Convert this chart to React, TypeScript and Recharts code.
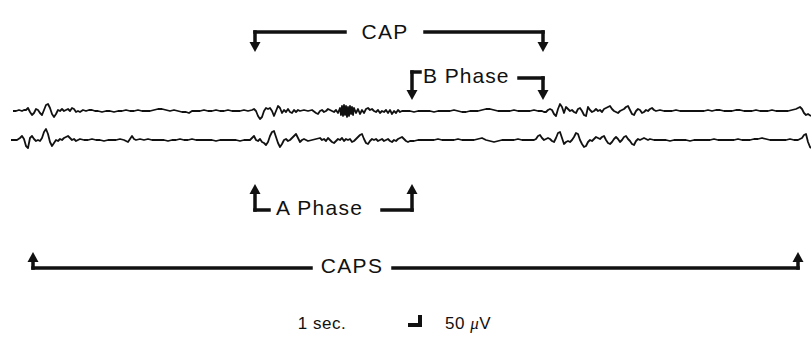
import React from 'react';
import { LineChart, Line, XAxis, YAxis, ReferenceLine, ReferenceDot } from 'recharts';

// EEG traces: [time, deflection] (deflection positive = up)
const topTrace: [number, number][] = [
  [13, 0], [16, 0], [19, 1], [22, 0], [24, 1], [26, 1], [28, 3], [30, -1], [32, -4],
  [34, -2], [36, 2], [38, 1], [40, -2], [42, -4], [44, 1], [46, 6], [48, 7], [50, 3], [52, -3], [54, -6], [56, -3],
  [58, 1], [60, 0], [62, 2], [64, 0], [66, 1], [68, 2], [70, 0], [72, 3], [74, 2], [76, -1], [78, 0], [80, -1],
  [83, 1], [86, 0], [89, 1], [92, 1], [95, 0], [98, 0], [102, -1], [106, 0], [110, 0],
  [114, -1], [118, 0], [122, 0], [126, 1], [130, 0], [134, 0], [138, 1], [142, 0], [146, 0], [150, 0],
  [154, 1], [158, 2], [162, 2], [166, 1], [170, 0], [174, 1], [178, 0], [182, -1], [186, -1], [189, -2], [192, 0],
  [196, 0], [200, 0], [204, 1], [208, 0], [212, 0], [216, 1], [220, 0], [224, 0], [228, 1], [232, 0], [236, 0],
  [240, 0], [244, 1], [248, 0], [252, 1], [254, 2], [256, 0], [258, -5], [260, -8], [262, -6], [264, 0], [266, 3],
  [268, 2], [270, 3], [272, 0], [274, -5], [276, 0], [278, 5], [280, 3], [282, -2], [284, 1], [286, -1], [288, 2],
  [290, -1], [292, -2], [294, 1], [296, -1], [298, 1], [300, 0], [304, 1], [308, 0], [312, 1], [316, -2], [318, -3],
  [320, 0], [322, 1], [324, -1], [326, 0], [328, 2], [330, 1], [332, 0], [334, -1], [336, 1], [338, -2], [340, 3],
  [341, -4], [342, 5], [343, -5], [344, 6], [345, -4], [346, 5], [347, -6], [348, 4], [349, -5], [350, 5], [351, -3],
  [352, 4], [353, -4], [354, 3], [356, -2], [358, 2], [360, -3], [362, 1], [364, -2], [366, 2], [368, 3], [370, 1],
  [372, 2], [374, 0], [376, -1], [378, 1], [380, -2], [382, 0], [384, -1], [386, 1], [388, -2], [390, 1], [392, -3],
  [394, 0], [396, -2], [398, 1], [400, -1], [402, 0], [406, 0], [410, 0], [414, -1], [418, 0], [422, 0], [426, 0],
  [430, 0], [434, -1], [438, 0], [442, 0], [446, 0], [450, 0], [454, 1], [458, 0], [462, -1], [466, -1], [470, 0],
  [474, 0], [478, 0], [482, 1], [486, 2], [490, 2], [494, 1], [498, 0], [502, 0], [506, 0], [510, 0], [514, 1],
  [518, 0], [522, 0], [526, 0], [530, 0], [534, 1], [538, 0], [542, 0], [544, -1], [546, -1], [548, 1], [550, 2],
  [552, 1], [554, -3], [556, -5], [558, 2], [560, 7], [562, 4], [564, -2], [566, 4], [568, 2], [570, 0], [572, 1],
  [574, -1], [576, -2], [578, 2], [580, 3], [582, 0], [584, -4], [586, -5], [588, 4], [590, 1], [592, -1], [594, 0],
  [596, 2], [598, 0], [600, 1], [602, -1], [604, 2], [606, 3], [608, 4], [610, 5], [612, 2], [614, 0], [616, -1],
  [618, -2], [620, 0], [622, 1], [624, 2], [626, 4], [628, 5], [630, 1], [632, -3], [634, -4], [636, 0], [638, 2],
  [640, 1], [642, -2], [644, -1], [646, 1], [648, 0], [650, 2], [652, 3], [654, 1], [656, 0], [660, 1], [664, 0],
  [668, 0], [672, 0], [676, 1], [680, 0], [684, 0], [688, 0], [692, 0], [696, 0], [700, 0], [704, 0], [708, 1],
  [712, 0], [716, 1], [720, 1], [724, 0], [728, 0], [732, 0], [736, 1], [740, 1], [744, 0], [748, 0], [752, 0],
  [756, 1], [760, 0], [764, 0], [768, 0], [772, 1], [776, 0], [780, 0], [784, 0], [788, 0], [792, 1], [796, 2],
  [798, 3], [800, 4], [802, 2], [804, -2], [806, -4], [808, -3], [811, -5],
];

const bottomTrace: [number, number][] = [
  [11, 0], [14, 0], [17, 0], [20, 2], [22, 4], [24, 1], [26, -6], [28, -8], [30, 2], [32, 4],
  [34, 1], [36, -1], [38, 0], [40, -1], [42, 2], [44, 8], [46, 11], [48, 6], [50, -2], [52, -6], [54, -3], [56, 0],
  [58, -1], [60, 1], [62, 0], [64, 2], [66, 3], [68, 4], [70, 2], [72, 0], [74, 1], [76, -1], [78, 0], [80, 1],
  [84, 0], [88, 0], [92, 1], [96, 0], [100, 0], [104, -1], [108, 0], [112, 0], [116, 0], [120, 1], [124, 0],
  [128, -2], [130, 1], [132, 4], [134, 1], [136, 0], [140, 1], [144, 0], [148, 1], [152, 0], [156, 0], [160, 0],
  [164, 0], [168, -1], [172, 0], [176, 0], [180, 1], [184, 0], [188, 0], [192, 1], [196, 0], [200, 0], [204, 0],
  [208, 0], [212, 0], [216, -1], [220, 0], [224, 0], [228, 0], [232, 0], [236, 0], [240, -1], [244, 0], [248, 0],
  [250, 0], [252, 2], [254, 4], [256, 0], [258, -1], [260, 1], [262, -2], [264, -3], [266, -5], [268, -2], [270, 4],
  [272, 8], [274, 9], [276, 3], [278, -3], [280, -7], [282, -4], [284, 0], [286, 1], [288, -1], [290, 0], [292, 2],
  [294, 4], [296, 6], [298, 2], [300, -2], [302, 0], [304, 1], [308, -1], [312, 0], [316, 1], [320, 2], [322, 0],
  [324, 1], [326, -1], [328, 2], [330, 0], [332, -2], [334, -3], [336, -1], [338, 1], [340, 0], [342, 2], [344, -1],
  [346, 1], [348, 0], [350, 1], [352, -2], [354, -1], [356, 1], [358, 3], [360, 5], [362, 6], [364, 1], [366, -3],
  [368, -4], [370, -1], [372, 1], [374, 0], [376, 1], [378, -1], [380, 0], [382, 1], [384, -1], [386, 0], [388, 1],
  [390, -1], [392, -2], [394, 0], [396, -1], [398, 1], [400, 2], [402, 3], [404, 1], [406, -1], [408, -2], [410, -1],
  [414, -1], [418, 0], [422, 0], [426, 0], [430, 0], [434, 0], [438, 1], [442, 0], [446, 0], [450, 0], [454, 0],
  [458, 1], [462, 0], [466, 0], [470, 0], [474, 0], [478, 1], [482, 2], [486, 0], [490, -1], [494, -2], [498, -1],
  [502, 0], [506, 0], [510, 0], [514, 0], [518, 1], [522, 0], [526, 0], [530, 0], [534, 0], [536, 1], [538, 4],
  [540, 5], [542, 2], [544, 0], [546, 1], [548, 2], [550, 1], [552, -1], [554, -2], [556, 2], [558, 7], [560, 8],
  [562, 2], [564, -4], [566, -2], [568, -1], [570, -2], [572, 0], [574, 3], [576, 7], [578, 6], [580, 0], [582, -4],
  [584, -7], [586, -6], [588, -2], [590, 0], [592, -1], [594, 1], [596, 3], [598, 2], [600, 1], [602, 3], [604, 4],
  [606, 0], [608, -3], [610, -4], [612, -2], [614, 1], [616, 3], [618, 1], [620, -2], [622, 0], [624, 3], [626, 4],
  [628, 1], [630, -1], [632, -4], [634, -5], [636, -1], [638, 1], [640, 0], [642, 1], [644, 2], [646, 1], [648, 0],
  [650, 1], [654, 0], [658, 0], [662, 0], [666, 0], [670, -1], [674, 0], [678, 0], [682, 0], [686, 0], [690, -1],
  [694, 0], [698, 0], [702, 0], [706, 0], [710, 0], [714, 1], [718, 0], [722, 0], [726, 0], [730, 0], [734, 0],
  [738, 1], [742, 0], [746, 0], [750, 0], [754, 1], [758, 1], [762, 2], [766, 1], [770, 0], [774, 0], [778, 0],
  [782, 0], [786, 0], [790, 1], [794, 0], [798, 0], [800, 1], [802, 2], [804, 5], [806, 6], [808, -2], [810, -7],
  [811, -8],
];

// phase boundaries (same time units as traces)
const capRange = [255, 543];
const bPhaseRange = [412, 543];
const aPhaseRange = [255, 412];
const capsRange = [33, 798];
const calibration = [410, 420];

const W = 811;
const H = 354;
const TOP_BASE = 111;
const BOTTOM_BASE = 140;
const INK = '#111';
const FONT = '"Liberation Sans", Arial, Helvetica, sans-serif';

const topData = topTrace.map(([t, v]) => ({ t, y: TOP_BASE - v }));
const bottomData = bottomTrace.map(([t, v]) => ({ t, y: BOTTOM_BASE - v }));

let k = 0;
const seg = (x1: number, y1: number, x2: number, y2: number, w = 3.5) => (
  <ReferenceLine
    key={'s' + k++}
    segment={[{ x: x1, y: y1 }, { x: x2, y: y2 }]}
    stroke={INK}
    strokeWidth={w}
    strokeLinecap="square"
    ifOverflow="visible"
  />
);

const head = (x: number, y: number, dir: 'up' | 'down') => (
  <ReferenceDot
    key={'h' + k++}
    x={x}
    y={y}
    r={0}
    ifOverflow="visible"
    shape={(p: any) => {
      const s = dir === 'down' ? -1 : 1;
      return (
        <polygon
          points={`${p.cx - 5.5},${p.cy + s * 10} ${p.cx + 5.5},${p.cy + s * 10} ${p.cx},${p.cy}`}
          fill={INK}
        />
      );
    }}
  />
);

const label = (x: number, y: number, text: React.ReactNode, anchor = 'middle', size = 21, spacing = 1.3) => (
  <ReferenceDot
    key={'t' + k++}
    x={x}
    y={y}
    r={0}
    ifOverflow="visible"
    shape={(p: any) => (
      <text
        x={p.cx}
        y={p.cy}
        textAnchor={anchor}
        dominantBaseline="central"
        fontFamily={FONT}
        fontSize={size}
        letterSpacing={spacing}
        fill={INK}
      >
        {text}
      </text>
    )}
  />
);

export default function App() {
  const [c0, c1] = capRange;
  const [b0, b1] = bPhaseRange;
  const [a0, a1] = aPhaseRange;
  const [s0, s1] = capsRange;
  const [k0, k1] = calibration;

  return (
    <div style={{ position: 'absolute', left: 0, top: 0, width: W, height: H, background: '#fff' }}>
      <LineChart width={W} height={H} margin={{ top: 0, right: 0, bottom: 0, left: 0 }}>
        <XAxis dataKey="t" type="number" domain={[0, W]} allowDataOverflow hide />
        <YAxis type="number" domain={[0, H]} reversed allowDataOverflow hide />

        <Line data={topData} dataKey="y" type="linear" stroke={INK} strokeWidth={1.8} strokeLinejoin="round" dot={false} activeDot={false} isAnimationActive={false} />
        <Line data={bottomData} dataKey="y" type="linear" stroke={INK} strokeWidth={1.8} strokeLinejoin="round" dot={false} activeDot={false} isAnimationActive={false} />

        {/* CAP */}
        {seg(c0, 32, 345, 32)}
        {seg(c0, 32, c0, 43)}
        {head(c0, 52, 'down')}
        {seg(425, 32, c1, 32)}
        {seg(c1, 32, c1, 43)}
        {head(c1, 52, 'down')}
        {label(385, 31, 'CAP')}

        {/* B Phase */}
        {seg(b0, 72, b0 + 8, 72)}
        {seg(b0, 72, b0, 91)}
        {head(b0, 100, 'down')}
        {label(423, 75, 'B Phase', 'start', 21, 1)}
        {seg(519, 78, b1, 78)}
        {seg(b1, 78, b1, 91)}
        {head(b1, 100, 'down')}

        {/* A Phase */}
        {seg(a0, 193, a0, 210)}
        {head(a0, 184, 'up')}
        {seg(a0, 210, a0 + 14, 210)}
        {label(276, 207, 'A Phase', 'start')}
        {seg(382, 210, a1, 210)}
        {seg(a1, 210, a1, 193)}
        {head(a1, 184, 'up')}

        {/* CAPS */}
        {seg(s0, 261, s0, 268)}
        {head(s0, 252, 'up')}
        {seg(s0, 268, 311, 268)}
        {label(352, 265, 'CAPS')}
        {seg(393, 268, s1, 268)}
        {seg(s1, 268, s1, 261)}
        {head(s1, 252, 'up')}

        {/* calibration: 1 sec / 50 uV */}
        {label(322, 323, '1 sec.', 'middle', 17, 0.5)}
        {seg(k0, 325, k1, 325, 4)}
        {seg(k1, 325, k1, 317, 4)}
        {label(
          445,
          323,
          <>
            50 <tspan fontFamily="'Liberation Serif', serif" fontStyle="italic">μ</tspan>V
          </>,
          'start',
          17,
          0.5
        )}
      </LineChart>
    </div>
  );
}
